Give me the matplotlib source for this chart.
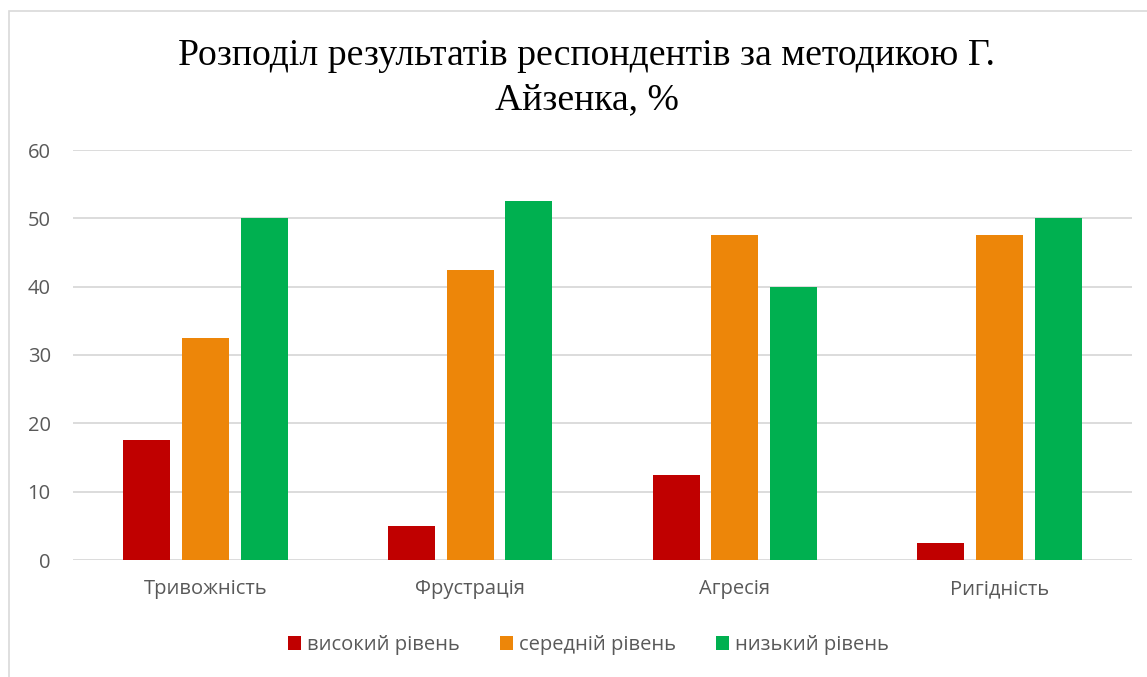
import numpy as np
import matplotlib.pyplot as plt
from matplotlib.patches import Rectangle

categories = ['Тривожність', 'Фрустрація', 'Агресія', 'Ригідність']
series_names = ['високий рівень', 'середній рівень', 'низький рівень']
high = [17.5, 5, 12.5, 2.5]
medium = [32.5, 42.5, 47.5, 47.5]
low = [50, 52.5, 40, 50]
colors = ['#c00000', '#ed8609', '#00b050']
yticks = [0, 10, 20, 30, 40, 50, 60]

plt.rcParams['font.family'] = ['Open Sans', 'DejaVu Sans']

W, H = 1147, 677
fig = plt.figure(figsize=(W / 100, H / 100), dpi=100)

# chart border (cut by the image on right and bottom)
fig.patches.append(Rectangle((9 / W, -0.1), 1.2, 1 - 11 / H + 0.1,
                             transform=fig.transFigure, fill=False,
                             edgecolor='#d9d9d9', linewidth=1.2))

ax = fig.add_axes([73 / W, 1 - 560 / H, (1132 - 73) / W, (560 - 150) / H])

x = np.arange(len(categories))
bw = 0.177
step = 0.222
for i, (vals, name) in enumerate(zip([high, medium, low], series_names)):
    ax.bar(x + (i - 1) * step, vals, width=bw, color=colors[i], label=name,
           zorder=3)

ax.set_xlim(-0.5, len(categories) - 0.5)
ax.set_ylim(0, 60)
ax.set_yticks(yticks)
ax.set_xticks(x)
ax.set_xticklabels(categories)
ax.grid(axis='y', color='#d9d9d9', linewidth=1.3, zorder=0)
for s in ax.spines.values():
    s.set_visible(False)
ax.tick_params(axis='both', length=0, labelsize=14.5, colors='#595959')
ax.tick_params(axis='x', pad=14)
ax.tick_params(axis='y', pad=16)

fig.text(587 / W, 1 - 78 / H, 'Розподіл результатів респондентів за методикою Г.\nАйзенка, %',
         ha='center', va='center', fontsize=27.2, family='Liberation Serif',
         linespacing=1.38)

leg = fig.legend(loc='center', bbox_to_anchor=(0.513, 1 - 645 / H), ncol=3,
                 frameon=False, fontsize=14.5, handlelength=0.65, handleheight=0.65,
                 columnspacing=2.0, handletextpad=0.3)
for t in leg.get_texts():
    t.set_color('#595959')

fig.savefig('out.png', dpi=100)
